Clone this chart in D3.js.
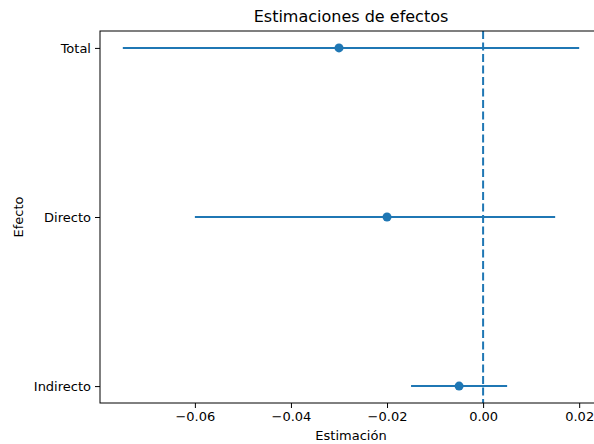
<!DOCTYPE html>
<html>
<head>
<meta charset="utf-8">
<script src="https://cdn.jsdelivr.net/npm/d3@7"></script>
<style>
  body { margin: 0; background: #fff; }
  text { font-family: "DejaVu Sans", sans-serif; fill: #000; }
</style>
</head>
<body>
<script>
// effect estimates with confidence intervals
var effects = ["Total", "Directo", "Indirecto"],
    estimates = [-0.03, -0.02, -0.005],
    lower = [-0.075, -0.06, -0.015],
    upper = [0.02, 0.015, 0.005],
    xTicks = [-0.06, -0.04, -0.02, 0.00, 0.02];

var width = 594,
    height = 444;

// plot area (right edge runs past the window, as in the original)
var plotLeft = 100, plotRight = 602, plotTop = 31, plotBottom = 403;

var svg = d3.select("body").append("svg")
    .attr("width", width)
    .attr("height", height);

var x = d3.scaleLinear()
    .domain([-0.07975, 0.02475])
    .range([plotLeft, plotRight]);

// Indirecto at bottom (index 2), Total at top
var y = d3.scaleLinear()
    .domain([-0.1, 2.1])
    .range([plotTop, plotBottom]);

var blue = "#1f77b4";

// x axis
var xAxis = svg.append("g")
    .attr("transform", "translate(0," + plotBottom + ")")
    .call(d3.axisBottom(x).tickValues(xTicks).tickSize(5).tickPadding(4)
        .tickFormat(function(d) { return d3.format(".2f")(d).replace("-", "\u2212"); }));
xAxis.select(".domain").remove();
xAxis.selectAll("text").style("font-size", "13px");

// y axis
var yAxis = svg.append("g")
    .attr("transform", "translate(" + plotLeft + ",0)")
    .call(d3.axisLeft(y).tickValues([0, 1, 2]).tickSize(5).tickPadding(4)
        .tickFormat(function(d) { return effects[d]; }));
yAxis.select(".domain").remove();
yAxis.selectAll("text").style("font-size", "13px");

svg.selectAll(".tick line").attr("stroke", "#000").attr("stroke-width", 1);

// error bars
svg.selectAll(".ebar")
    .data(effects)
    .enter().append("line")
    .attr("class", "ebar")
    .attr("x1", function(d, i) { return x(lower[i]); })
    .attr("x2", function(d, i) { return x(upper[i]); })
    .attr("y1", function(d, i) { return y(i); })
    .attr("y2", function(d, i) { return y(i); })
    .attr("stroke", blue)
    .attr("stroke-width", 2);

// zero reference line
svg.append("line")
    .attr("x1", x(0)).attr("x2", x(0))
    .attr("y1", plotTop).attr("y2", plotBottom)
    .attr("stroke", blue)
    .attr("stroke-width", 2)
    .attr("stroke-dasharray", "8,3.5");

// points
svg.selectAll(".pt")
    .data(effects)
    .enter().append("circle")
    .attr("class", "pt")
    .attr("cx", function(d, i) { return x(estimates[i]); })
    .attr("cy", function(d, i) { return y(i); })
    .attr("r", 4.5)
    .attr("fill", blue);

// frame
svg.append("rect")
    .attr("x", plotLeft).attr("y", plotTop)
    .attr("width", plotRight - plotLeft).attr("height", plotBottom - plotTop)
    .attr("fill", "none")
    .attr("stroke", "#000")
    .attr("stroke-width", 1);

// labels
svg.append("text")
    .attr("x", (plotLeft + plotRight) / 2)
    .attr("y", 22)
    .attr("text-anchor", "middle")
    .style("font-size", "16px")
    .text("Estimaciones de efectos");

svg.append("text")
    .attr("x", (plotLeft + plotRight) / 2)
    .attr("y", 440)
    .attr("text-anchor", "middle")
    .style("font-size", "13px")
    .text("Estimación");

svg.append("text")
    .attr("transform", "translate(23," + ((plotTop + plotBottom) / 2) + ") rotate(-90)")
    .attr("text-anchor", "middle")
    .style("font-size", "13px")
    .text("Efecto");
</script>
</body>
</html>
